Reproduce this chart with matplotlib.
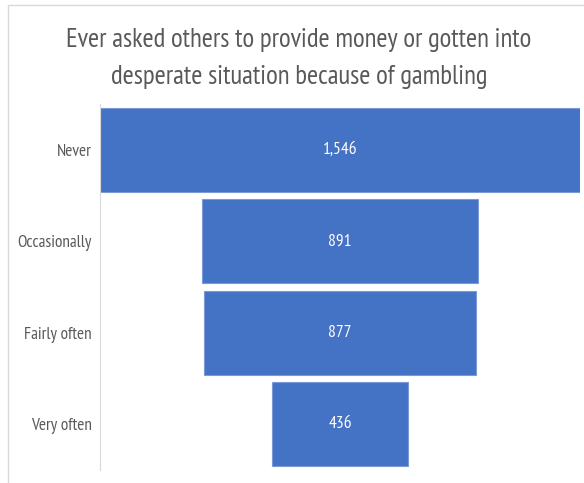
import matplotlib
matplotlib.use("Agg")
import matplotlib.pyplot as plt
from matplotlib.patches import Rectangle

plt.rcParams['font.family'] = ['PT Sans Narrow', 'DejaVu Sans']

categories = ["Never", "Occasionally", "Fairly often", "Very often"]
counts = [1546, 891, 877, 436]
title_lines = ["Ever asked others to provide money or gotten into",
               "desperate situation because of gambling"]

W, H = 584, 483
fig = plt.figure(figsize=(W / 100, H / 100), dpi=100)

# light frame around the chart area
fig.patches.append(Rectangle((8 / W, -0.1), 1.2, 1 - 5 / H + 0.1, transform=fig.transFigure,
                             fill=False, edgecolor="#d9d9d9", linewidth=1.0))

ax = fig.add_axes([100 / W, 1 - 470 / H, 480 / W, 366 / H])

# funnel: bars centred on zero
lefts = [-c / 2 for c in counts]
ax.barh(range(len(counts)), counts, left=lefts, height=0.92,
        color="#4472C4", edgecolor="#7b9ad6", linewidth=0.8)

for i, c in enumerate(counts):
    ax.text(0, i, f"{c:,}", ha="center", va="center", color="white", fontsize=12.5)

ax.set_xlim(-773, 773)
ax.set_ylim(3.5, -0.5)
ax.set_yticks(range(len(categories)))
ax.set_yticklabels(categories, fontsize=12.3, color="#595959")
ax.tick_params(axis="y", length=0, pad=6)
ax.set_xticks([])
for s in ["top", "right", "bottom"]:
    ax.spines[s].set_visible(False)
ax.spines["left"].set_color("#d9d9d9")

for k, line in enumerate(title_lines):
    fig.text(299 / W, 1 - (40 + 37 * k) / H, line, ha="center", va="center",
             fontsize=19.4, color="#595959")

fig.savefig("out.png", dpi=100)
